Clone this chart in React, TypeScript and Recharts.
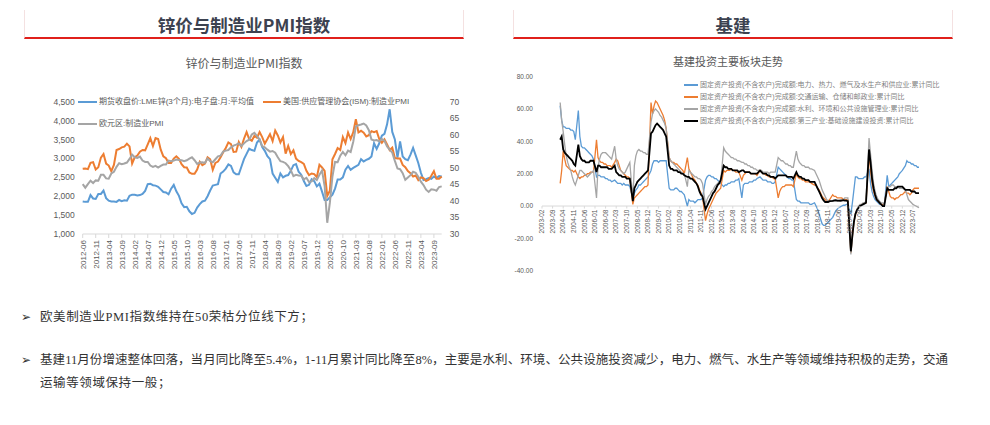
import React from 'react';
import { LineChart, Line, XAxis, YAxis, ReferenceLine } from 'recharts';

const FONT = "'Liberation Sans', 'Noto Sans CJK SC', sans-serif";
const CJK = "'Noto Sans CJK SC', sans-serif";
const TEXT_FONT = "'Liberation Serif', 'Noto Sans CJK SC', serif";

// ---------- 锌价与制造业PMI指数 (2012-06 .. 2023-12) ----------
const pmiMonths: string[] = [];
for (let y = 2012; y <= 2023; y++) {
  for (let m = y === 2012 ? 6 : 1; m <= 12; m++) pmiMonths.push(`${y}-${String(m).padStart(2, '0')}`);
}

const zincPrice = [
  1860, 1850, 1850, 2030, 1940, 1930, 2060,
  2060, 2150, 1950, 1880, 1860, 1860, 1850, 1900, 1870, 1890, 1880, 2010,
  2040, 2040, 2020, 2030, 2060, 2140, 2320, 2330, 2290, 2280, 2250, 2180,
  2110, 2100, 2050, 2200, 2300, 2130, 2010, 1810, 1710, 1720, 1600, 1530,
  1560, 1700, 1790, 1860, 1880, 2000, 2150, 2280, 2300, 2320, 2600, 2650,
  2730, 2840, 2800, 2630, 2580, 2580, 2780, 2980, 3120, 3260, 3220, 3200,
  3420, 3500, 3300, 3200, 3060, 2980, 2600, 2490, 2380, 2600, 2500, 2540,
  2560, 2670, 2820, 2850, 2650, 2570, 2400, 2270, 2300, 2450, 2400, 2260,
  2330, 2120, 1900, 1900, 1970, 2040, 2200, 2440, 2440, 2500, 2700, 2800,
  2700, 2750, 2790, 2830, 2980, 2920, 2960, 2990, 3050, 3400, 3250, 3400,
  3600, 3650, 3900, 4300, 3700, 3500, 3020, 3450, 3050, 2980, 2950, 3100,
  3280, 3080, 2880, 2620, 2430, 2450, 2480, 2460, 2520, 2480, 2530, 2520,
];

const usIsmPmi = [
  49.7, 49.8, 49.6, 51.5, 51.7, 49.5, 50.2,
  53.1, 54.2, 51.3, 50.7, 49.0, 50.9, 55.4, 55.7, 56.2, 56.4, 57.3, 56.5,
  51.3, 53.2, 53.7, 54.9, 55.4, 55.3, 57.1, 59.0, 56.6, 59.0, 58.7, 55.5,
  53.5, 52.9, 51.5, 51.5, 52.8, 53.5, 52.7, 51.1, 50.2, 50.1, 48.6, 48.2,
  48.2, 49.5, 51.8, 50.8, 51.3, 53.2, 52.6, 49.4, 51.5, 51.9, 53.2, 54.7,
  56.0, 57.7, 57.2, 54.8, 54.9, 57.8, 56.3, 58.8, 60.8, 58.7, 58.2, 59.7,
  59.1, 60.8, 59.3, 57.3, 58.7, 60.2, 58.1, 61.3, 59.8, 57.7, 59.3, 54.3,
  56.6, 54.2, 55.3, 52.8, 52.1, 51.7, 51.2, 49.1, 47.8, 48.3, 48.1, 47.2,
  50.9, 50.1, 49.1, 41.5, 43.1, 52.6, 54.2, 56.0, 55.4, 59.3, 57.5, 60.7,
  58.7, 60.8, 64.7, 60.7, 61.2, 60.6, 59.5, 59.9, 61.1, 60.8, 61.1, 58.7,
  57.6, 58.6, 57.1, 55.4, 56.1, 53.0, 52.8, 52.8, 50.9, 50.2, 49.0, 48.4,
  47.4, 47.7, 46.3, 47.1, 46.9, 46.0, 46.4, 47.6, 49.0, 46.7, 46.7, 47.4,
];

const euroPmi = [
  45.1, 44.0, 45.1, 46.1, 45.4, 46.2, 46.1,
  47.9, 47.9, 46.8, 46.7, 48.3, 48.8, 50.3, 51.4, 51.1, 51.3, 51.6, 52.7,
  54.0, 53.2, 53.0, 53.4, 52.2, 51.8, 51.8, 50.7, 50.3, 50.6, 50.1, 50.6,
  51.0, 51.0, 52.2, 52.0, 52.2, 52.5, 52.4, 52.3, 52.0, 52.3, 52.8, 53.2,
  52.3, 51.2, 51.6, 51.7, 51.5, 52.8, 52.0, 51.7, 52.6, 53.5, 53.7, 54.9,
  55.2, 55.4, 56.2, 56.7, 57.0, 57.4, 56.6, 57.4, 58.1, 58.5, 60.1, 60.6,
  59.6, 58.6, 56.6, 56.2, 55.5, 54.9, 55.1, 54.6, 53.2, 52.0, 51.8, 51.4,
  50.5, 49.3, 47.5, 47.9, 47.7, 47.6, 46.5, 47.0, 45.7, 45.9, 46.9, 46.3,
  47.9, 49.2, 44.5, 33.4, 39.4, 47.4, 51.8, 51.7, 53.7, 54.8, 53.8, 55.2,
  54.8, 57.9, 62.5, 62.9, 63.1, 63.4, 62.8, 61.4, 58.6, 58.3, 58.4, 58.0,
  58.7, 58.2, 56.5, 55.5, 54.6, 52.1, 49.8, 49.6, 48.4, 46.4, 47.1, 47.8,
  48.8, 48.5, 47.3, 45.8, 44.8, 43.4, 42.7, 43.5, 43.4, 43.1, 44.2, 44.4,
];

const zincTicks = [1000, 1500, 2000, 2500, 3000, 3500, 4000, 4500];
const pmiTicks = [30, 35, 40, 45, 50, 55, 60, 65, 70];

// ---------- 基建投资主要板块走势 (2003-02 .. 2023-11, 累计同比 %) ----------
const infraMonths: string[] = [];
for (let y = 2003; y <= 2023; y++) {
  const end = y === 2023 ? 11 : 12;
  for (let m = y === 2003 ? 2 : 1; m <= end; m++) infraMonths.push(`${y}-${String(m).padStart(2, '0')}`);
}

const N = null;
// 电力、热力、燃气及水生产和供应业
const powerYoY = [
  N, N, N, N, N, N, N, N, N, N, N,
  N, 62, 53, 49, 49, 48, 48, 48, 47, 47, 46, 41,
  N, 59, 43, 37, 36, 36, 35, 34, 33, 32, 31, 29,
  N, 18, 19, 19, 18, 18, 18, 17, 17, 16, 16, 15,
  N, 16, 15, 14, 14, 14, 13, 14, 13, 13, 13, 12,
  N, 5, 8, 10, 11, 13, 13, 14, 15, 16, 17, 18,
  N, 22, 26, 28, 28, 28, 27, 28, 28, 28, 28, 28,
  N, 11, 10, 10, 10, 11, 11, 10, 9, 9, 8, 7,
  N, 0, 4, 3, 3, 3, 2, 3, 4, 4, 4, 5,
  N, 16, 18, 19, 19, 18, 18, 17, 17, 16, 15, 14,
  N, 12, 13, 13, 14, 14, 15, 15, 15, 16, 16, 17,
  N, 5, 13, 14, 14, 14, 15, 15, 15, 16, 16, 17,
  N, 18, 17, 16, 16, 16, 15, 15, 15, 14, 14, 15,
  N, 24, 23, 22, 21, 20, 19, 18, 17, 17, 16, 16,
  N, 4, 3, 3, 2, 2, 2, 2, 2, 2, 1, 1,
  N, 2, 0, -2, -5, -8, -11, -12, -12, -11, -10, -9,
  N, -7, -5, -3, -2, -1, -0.5, 0, 0.5, 0.5, 1, 1,
  N, -5, 2, 10, 18, 18, 17, 17, 17, 17, 18, 18,
  N, 23, 14, 9, 6, 4, 3, 2, 1, 1, 0, 0,
  N, 19, 12, 13, 14, 15, 16, 17, 18, 20, 21, 22,
  N, 25, 28, 27, 27, 26, 26, 25, 25, 24, 24,
];
// 交通运输、仓储和邮政业
const transportYoY = [
  N, N, N, N, N, N, N, N, N, N, N,
  N, 14, 22, 34, 29, 25, 24, 23, 22, 22, 21, 22,
  N, 18, 17, 18, 18, 19, 19, 20, 20, 21, 21, 21,
  N, 41, 30, 28, 27, 27, 26, 26, 25, 25, 25, 24,
  N, 27, 29, 28, 25, 22, 21, 20, 19, 18, 18, 17,
  N, 1, 5, 6, 7, 8, 9, 10, 11, 12, 12, 13,
  N, 64, 57, 62, 65, 64, 62, 60, 58, 56, 53, 48,
  N, 30, 28, 27, 27, 26, 26, 25, 24, 23, 22, 20,
  N, 30, 23, 21, 19, 17, 16, 14, 13, 10, 8, 6,
  N, -9, -5, -2, 0, 2, 4, 6, 8, 9, 10, 11,
  N, 22, 21, 22, 22, 22, 23, 22, 22, 21, 21, 21,
  N, 16, 19, 20, 21, 21, 21, 20, 20, 20, 20, 19,
  N, 22, 21, 20, 20, 19, 19, 18, 18, 18, 17, 17,
  N, 5, 9, 11, 12, 12, 13, 13, 13, 13, 13, 12,
  N, 20, 18, 17, 17, 16, 16, 15, 15, 15, 15, 14,
  N, 13, 13, 11, 10, 8, 6, 5, 4, 3, 3, 4,
  N, 7, 6, 6, 5, 5, 5, 5, 4, 4, 4, 4,
  N, -29, -19, -10, -5, -2, -1, 0, 1, 1, 2, 2,
  N, 32, 22, 14, 9, 6, 4, 3, 2, 1, 1, 1,
  N, 12, 9, 6, 5, 5, 4, 5, 5, 6, 7, 7,
  N, 9, 8, 8, 7, 8, 10, 11, 11, 11, 11,
];
// 水利、环境和公共设施管理业
const waterYoY = [
  N, N, N, N, N, N, N, N, N, N, N,
  N, 64, 53, 46, 38, 31, 27, 24, 22, 18, 15, 13,
  N, 19, 22, 22, 21, 20, 19, 18, 19, 20, 21, 22,
  N, 5, 24, 29, 32, 33, 33, 33, 32, 31, 30, 29,
  N, 37, 29, 25, 23, 22, 21, 20, 21, 23, 25, 27,
  N, 4, 25, 31, 34, 35, 34, 34, 33, 33, 32, 32,
  N, 52, 57, 59, 60, 59, 58, 56, 55, 53, 51, 48,
  N, 30, 28, 27, 26, 25, 24, 23, 22, 21, 20, 20,
  N, 12, 22, 21, 20, 19, 18, 18, 17, 17, 16, 14,
  N, 1, 4, 6, 7, 9, 10, 12, 13, 14, 15, 15,
  N, 36, 34, 33, 32, 31, 30, 30, 29, 29, 28, 28,
  N, 27, 27, 26, 26, 25, 25, 24, 24, 23, 23, 22,
  N, 22, 22, 21, 21, 21, 21, 20, 21, 21, 21, 21,
  N, 30, 29, 28, 28, 27, 26, 26, 25, 25, 24, 24,
  N, 34, 29, 27, 26, 25, 25, 24, 24, 24, 23, 23,
  N, 22, 20, 18, 16, 13, 10, 8, 6, 4, 3, 3,
  N, 3, 3, 3, 3, 3, 4, 4, 4, 5, 5, 5,
  N, -30, -20, -10, -5, -2, 0, 1, 1, 2, 2, 3,
  N, 42, 32, 22, 14, 9, 6, 4, 3, 2, 2, 1,
  N, 11, 12, 12, 13, 13, 12, 12, 12, 11, 11, 11,
  N, 10, 7, 4, 3, 2, 1, 0.5, 0, -0.5, -1,
];
// 第三产业:基础设施建设投资
const infraYoY = [
  N, N, N, N, N, N, N, N, N, N, N,
  N, 41, 43, 35, 33, 32, 31, 30, 29, 28, 26, 25,
  N, 38, 31, 29, 28, 28, 27, 27, 27, 28, 28, 28,
  N, 21, 25, 25, 24, 24, 24, 24, 24, 23, 23, 23,
  N, 25, 21, 20, 19, 19, 18, 18, 18, 17, 17, 17,
  N, 3, 11, 13, 15, 16, 17, 18, 19, 20, 21, 22,
  N, 45, 46, 48, 50, 51, 50, 49, 48, 47, 45, 43,
  N, 25, 23, 23, 22, 22, 22, 21, 21, 20, 20, 19,
  N, 18, 18, 17, 17, 16, 15, 14, 12, 9, 7, 6,
  N, -2, 0, 2, 4, 6, 8, 9, 11, 13, 14, 16,
  N, 25, 24, 24, 23, 23, 23, 22, 22, 22, 22, 21,
  N, 22, 22, 21, 21, 21, 21, 20, 20, 20, 20, 20,
  N, 22, 21, 20, 20, 20, 19, 19, 18, 18, 18, 17,
  N, 19, 19, 19, 19, 19, 19, 18, 18, 18, 18, 17,
  N, 21, 19, 18, 18, 17, 17, 16, 16, 16, 15, 15,
  N, 15, 13, 11, 9, 7, 5, 3.5, 2.5, 2.5, 2.5, 3,
  N, 3.2, 3.5, 3.6, 3.3, 3.4, 3.2, 3.4, 3.6, 3.4, 3.3, 3.0,
  N, -28, -18, -10, -5, -2.5, -1.2, 0, 0.5, 1, 1.5, 2,
  N, 35, 27, 17, 11, 7, 4, 3, 2, 1, 0, 0,
  N, 11, 10, 10, 10, 10, 11, 11, 12, 12, 12, 12,
  N, 10, 10, 10, 10, 9, 9, 9, 8, 8, 8,
];

const infraTicks = [-40, -20, 0, 20, 40, 60, 80];

const pmiData = pmiMonths.map((month, i) => ({
  month,
  zinc: zincPrice[i],
  ism: usIsmPmi[i],
  euro: euroPmi[i],
}));

const infraData = infraMonths.map((month, i) => ({
  month,
  power: powerYoY[i],
  transport: transportYoY[i],
  water: waterYoY[i],
  infra: infraYoY[i],
}));

// right chart geometry (x axis labels sit on the zero line)
const R_W = 430;
const R_H = 215;
const R_X_AXIS_H = 1;
const R_MARGIN = { top: 11.7, right: 16, bottom: 8.3, left: 7 };
const R_PLOT_H = R_H - R_MARGIN.top - R_MARGIN.bottom - R_X_AXIS_H;
const R_DOMAIN: [number, number] = [-40, 80];
const ZERO_FROM_BOTTOM = (R_PLOT_H * (0 - R_DOMAIN[0])) / (R_DOMAIN[1] - R_DOMAIN[0]);

const PmiTick = (props: any) => {
  const { x, y, payload } = props;
  return (
    <g transform={`translate(${x},${y})`}>
      <text transform="rotate(-90)" textAnchor="end" dy="0.35em" fontSize={8} fill="#595959" fontFamily={FONT}>
        {payload.value}
      </text>
    </g>
  );
};

const InfraTick = (props: any) => {
  const { x, y, payload } = props;
  const zy = y - ZERO_FROM_BOTTOM;
  return (
    <g>
      <line x1={x} x2={x} y1={zy} y2={zy + 2.5} stroke="#D9D9D9" />
      <g transform={`translate(${x},${zy + 3.5})`}>
        <text transform="rotate(-90)" textAnchor="end" dy="0.35em" fontSize={6.5} fill="#595959" fontFamily={FONT}>
          {payload.value}
        </text>
      </g>
    </g>
  );
};

function LegendItem(p: { left: number; cy: number; color: string; text: string; lineW: number; thick: number; size: number; textColor: string }) {
  return (
    <div
      style={{
        position: 'absolute',
        left: p.left,
        top: p.cy - 6,
        height: 12,
        display: 'flex',
        alignItems: 'center',
        whiteSpace: 'nowrap',
      }}
    >
      <span style={{ display: 'inline-block', width: p.lineW, height: p.thick, background: p.color, marginRight: 2 }} />
      <span style={{ fontSize: p.size, color: p.textColor, fontFamily: FONT, lineHeight: '12px' }}>{p.text}</span>
    </div>
  );
}

function Header({ left, width, title }: { left: number; width: number; title: string }) {
  return (
    <div
      style={{
        position: 'absolute',
        left,
        top: 10,
        width,
        height: 27,
        borderLeft: '1px solid #F4E1E1',
        borderRight: '1px solid #F4E1E1',
        borderBottom: '2px solid #E0201B',
        textAlign: 'center',
        fontFamily: CJK,
        fontWeight: 700,
        fontSize: 17.5,
        lineHeight: '29px',
        color: '#3C4250',
      }}
    >
      {title}
    </div>
  );
}

const bulletStyle: React.CSSProperties = {
  position: 'absolute',
  left: 21,
  fontFamily: "'DejaVu Sans', sans-serif",
  fontSize: 12,
  lineHeight: '16px',
  color: '#333',
};
const paraStyle: React.CSSProperties = {
  position: 'absolute',
  left: 40,
  fontFamily: TEXT_FONT,
  fontSize: 12.5,
  lineHeight: '16px',
  color: '#333',
  whiteSpace: 'nowrap',
};

export default function App() {
  return (
    <div style={{ position: 'absolute', left: 0, top: 0, width: 990, height: 425, background: '#fff', overflow: 'hidden' }}>
      <Header left={24} width={438} title="锌价与制造业PMI指数" />
      <Header left={513} width={438} title="基建" />

      {/* left chart */}
      <div style={{ position: 'absolute', left: 24, top: 54, width: 440, textAlign: 'center', fontFamily: CJK, fontSize: 12, color: '#595959' }}>
        锌价与制造业PMI指数
      </div>
      <div style={{ position: 'absolute', left: 20, top: 85 }}>
        <LineChart width={460} height={200} data={pmiData} margin={{ top: 16.7, right: 8.3, bottom: 6, left: 22.7 }}>
          <XAxis
            dataKey="month"
            interval={4}
            height={45}
            tickSize={4}
            tickMargin={2}
            axisLine={{ stroke: '#D9D9D9' }}
            tickLine={{ stroke: '#D9D9D9' }}
            tick={<PmiTick />}
          />
          <YAxis
            yAxisId="zinc"
            domain={[1000, 4500]}
            ticks={zincTicks}
            width={40}
            axisLine={false}
            tickLine={false}
            tickFormatter={(v: number) => v.toLocaleString('en-US')}
            tick={{ fontSize: 8.5, fill: '#595959', fontFamily: FONT }}
          />
          <YAxis
            yAxisId="pmi"
            orientation="right"
            domain={[30, 70]}
            ticks={pmiTicks}
            width={30}
            axisLine={false}
            tickLine={false}
            tick={{ fontSize: 8.5, fill: '#595959', fontFamily: FONT }}
          />
          <Line yAxisId="zinc" dataKey="zinc" stroke="#5B9BD5" strokeWidth={2} dot={false} isAnimationActive={false} />
          <Line yAxisId="pmi" dataKey="ism" stroke="#ED7D31" strokeWidth={2} dot={false} isAnimationActive={false} />
          <Line yAxisId="pmi" dataKey="euro" stroke="#A5A5A5" strokeWidth={2} dot={false} isAnimationActive={false} />
        </LineChart>
      </div>
      <LegendItem left={78} cy={102} color="#5B9BD5" text="期货收盘价:LME锌(3个月):电子盘:月:平均值" lineW={19} thick={2} size={8} textColor="#595959" />
      <LegendItem left={263} cy={102} color="#ED7D31" text="美国:供应管理协会(ISM):制造业PMI" lineW={18} thick={2} size={8} textColor="#595959" />
      <LegendItem left={78} cy={124} color="#A5A5A5" text="欧元区:制造业PMI" lineW={19} thick={2} size={8} textColor="#595959" />

      {/* right chart */}
      <div style={{ position: 'absolute', left: 628, top: 53, width: 200, textAlign: 'center', fontFamily: CJK, fontSize: 11, color: '#595959' }}>
        基建投资主要板块走势
      </div>
      <div style={{ position: 'absolute', left: 505, top: 65 }}>
        <LineChart width={R_W} height={R_H} data={infraData} margin={R_MARGIN}>
          <XAxis
            dataKey="month"
            interval={6}
            height={R_X_AXIS_H}
            tickSize={0}
            tickMargin={0}
            axisLine={false}
            tickLine={false}
            tick={<InfraTick />}
          />
          <YAxis
            domain={R_DOMAIN}
            ticks={infraTicks}
            width={30}
            axisLine={false}
            tickLine={false}
            tickMargin={3}
            tickFormatter={(v: number) => v.toFixed(2)}
            tick={{ fontSize: 6.5, fill: '#595959', fontFamily: FONT }}
          />
          <ReferenceLine y={0} stroke="#D9D9D9" strokeWidth={1} />
          <Line dataKey="power" stroke="#5B9BD5" strokeWidth={1.3} dot={false} connectNulls isAnimationActive={false} />
          <Line dataKey="transport" stroke="#ED7D31" strokeWidth={1.3} dot={false} connectNulls isAnimationActive={false} />
          <Line dataKey="water" stroke="#A5A5A5" strokeWidth={1.3} dot={false} connectNulls isAnimationActive={false} />
          <Line dataKey="infra" stroke="#000000" strokeWidth={1.8} dot={false} connectNulls isAnimationActive={false} />
        </LineChart>
      </div>
      <LegendItem left={684} cy={85} color="#5B9BD5" text="固定资产投资(不含农户)完成额:电力、热力、燃气及水生产和供应业:累计同比" lineW={14} thick={1.3} size={7} textColor="#7F7F7F" />
      <LegendItem left={684} cy={97} color="#ED7D31" text="固定资产投资(不含农户)完成额:交通运输、仓储和邮政业:累计同比" lineW={14} thick={1.3} size={7} textColor="#7F7F7F" />
      <LegendItem left={684} cy={109} color="#A5A5A5" text="固定资产投资(不含农户)完成额:水利、环境和公共设施管理业:累计同比" lineW={14} thick={1.3} size={7} textColor="#7F7F7F" />
      <LegendItem left={684} cy={121} color="#000000" text="固定资产投资(不含农户)完成额:第三产业:基础设施建设投资:累计同比" lineW={14} thick={2.2} size={7} textColor="#7F7F7F" />

      {/* commentary */}
      <div style={{ ...bulletStyle, top: 309 }}>➢</div>
      <div style={{ ...paraStyle, top: 309, letterSpacing: 0.6 }}>欧美制造业PMI指数维持在50荣枯分位线下方；</div>
      <div style={{ ...bulletStyle, top: 352 }}>➢</div>
      <div style={{ ...paraStyle, top: 352, width: 908, textAlign: 'justify', textAlignLast: 'justify' }}>
        基建11月份增速整体回落，当月同比降至5.4%，1-11月累计同比降至8%，主要是水利、环境、公共设施投资减少，电力、燃气、水生产等领域维持积极的走势，交通
      </div>
      <div style={{ ...paraStyle, top: 375, letterSpacing: 0.6 }}>运输等领域保持一般；</div>
    </div>
  );
}
